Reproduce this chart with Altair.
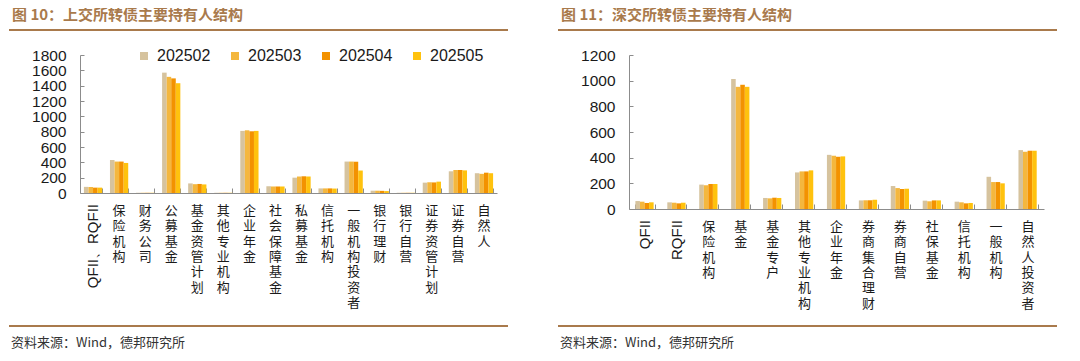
import altair as alt
import pandas as pd

periods = ["202502", "202503", "202504", "202505"]
colors = ["#D6C39E", "#F4B73E", "#F39200", "#FFC20E"]

# 上交所
sh_cats = ["QFII、RQFII", "保险机构", "财务公司", "公募基金", "基金资管计划", "其他专业机构",
           "企业年金", "社会保障基金", "私募基金", "信托机构", "一般机构投资者", "银行理财",
           "银行自营", "证券资管计划", "证券自营", "自然人"]
sh_202502 = [80, 430, 3, 1570, 125, 3, 810, 88, 200, 60, 410, 30, 3, 135, 283, 258]
sh_202503 = [78, 410, 3, 1515, 115, 3, 818, 85, 215, 60, 410, 30, 3, 140, 300, 250]
sh_202504 = [70, 410, 3, 1495, 118, 3, 805, 85, 218, 60, 408, 28, 3, 138, 300, 265]
sh_202505 = [70, 392, 3, 1432, 112, 3, 810, 85, 215, 58, 293, 25, 3, 148, 295, 258]
sh_latin = ["QFII、RQFII"]
sh_ticks = [0, 200, 400, 600, 800, 1000, 1200, 1400, 1600, 1800]

# 深交所
sz_cats = ["QFII", "RQFII", "保险机构", "基金", "基金专户", "其他专业机构", "企业年金",
           "券商集合理财", "券商自营", "社保基金", "信托机构", "一般机构", "自然人投资者"]
sz_202502 = [62, 52, 190, 1013, 86, 285, 422, 67, 179, 65, 57, 251, 459]
sz_202503 = [57, 49, 185, 952, 83, 293, 415, 68, 163, 60, 52, 210, 446]
sz_202504 = [47, 44, 195, 968, 88, 293, 407, 68, 156, 67, 44, 210, 454]
sz_202505 = [52, 49, 195, 952, 86, 301, 410, 72, 158, 67, 47, 200, 454]
sz_latin = ["QFII", "RQFII"]
sz_ticks = [0, 200, 400, 600, 800, 1000, 1200]

titles = ["图 10：上交所转债主要持有人结构", "图 11：深交所转债主要持有人结构"]
source = "资料来源：Wind，德邦研究所"

CJK = "Noto Sans CJK SC"
NUM = "Liberation Sans"
BROWN = "#A97A4C"
AXIS = "#8C8C8C"


def panel(cats, series, latin, ticks, title, w, h, pin, legend_x, col_pad):
    rows = []
    for p, vals in zip(periods, series):
        for c, v in zip(cats, vals):
            rows.append({"cat": c, "period": p, "value": v})
    df = pd.DataFrame(rows)
    cdf = pd.DataFrame({"cat": cats, "latin": [1 if c in latin else 0 for c in cats]})
    xscale = alt.Scale(paddingInner=pin, paddingOuter=pin / 2)
    yscale = alt.Scale(domain=[0, ticks[-1]])

    bars = alt.Chart(df).mark_bar().encode(
        x=alt.X("cat:N", sort=cats, scale=xscale, title=None,
                axis=alt.Axis(orient="bottom", labels=False, ticks=False, domainColor=AXIS,
                              domainWidth=1)),
        xOffset=alt.XOffset("period:N", sort=periods, scale=alt.Scale(paddingInner=0)),
        y=alt.Y("value:Q", scale=yscale, title=None,
                axis=alt.Axis(orient="left", values=ticks, format="d", labelOverlap=False,
                              labelFlush=False, grid=False, ticks=False,
                              domainColor=AXIS, labelFont=NUM, labelFontSize=15.5,
                              labelColor="#1a1a1a", labelPadding=14)),
        color=alt.Color("period:N", scale=alt.Scale(domain=periods, range=colors),
                        legend=alt.Legend(orient="none", legendX=legend_x, legendY=-7,
                                          direction="horizontal", columns=4, title=None,
                                          symbolType="square", symbolSize=64,
                                          symbolStrokeWidth=0, labelFont=NUM,
                                          labelFontSize=16, labelColor="#1a1a1a",
                                          labelOffset=5, columnPadding=col_pad,
                                          padding=0)),
    )

    tickl = alt.Chart(df).mark_point(opacity=0).encode(
        x=alt.X("cat:N", sort=cats, scale=xscale, title=None,
                axis=alt.Axis(orient="bottom", labels=False, domain=False, ticks=True,
                              tickBand="extent", tickSize=5, offset=-5, tickColor=AXIS)),
        y=alt.Y("value:Q", scale=yscale, title=None,
                axis=alt.Axis(orient="left", values=ticks, labels=False, domain=False,
                              ticks=True, tickSize=4, offset=-4, tickColor=AXIS, grid=False)),
    )

    cjk = alt.Chart(cdf).transform_filter("datum.latin == 0").transform_calculate(
        chars="split(datum.cat, '')"
    ).mark_text(baseline="top", align="center", font=CJK, fontSize=13, lineHeight=15.3,
                color="#1a1a1a").encode(
        x=alt.X("cat:N", sort=cats, scale=xscale, axis=None),
        y=alt.value(h + 12),
        text="chars:N",
    )

    lat = alt.Chart(cdf).transform_filter("datum.latin == 1").mark_text(
        angle=270, align="right", baseline="middle", font=NUM, fontSize=15,
        color="#1a1a1a").encode(
        x=alt.X("cat:N", sort=cats, scale=xscale, axis=None),
        y=alt.value(h + 11),
        text="cat:N",
    )

    one = pd.DataFrame({"t": [title], "s": [source]})
    ttl = alt.Chart(one).mark_text(align="left", baseline="middle", font=CJK, fontSize=15,
                                   fontWeight="bold", color=BROWN).encode(
        x=alt.value(-68), y=alt.value(-40), text="t:N")
    line1 = alt.Chart(one).mark_rule(color=BROWN, strokeWidth=2).encode(
        x=alt.value(-71), x2=alt.value(428), y=alt.value(-25))
    line2 = alt.Chart(one).mark_rule(color=BROWN, strokeWidth=2).encode(
        x=alt.value(-71), x2=alt.value(428), y=alt.value(271))
    src = alt.Chart(one).mark_text(align="left", baseline="middle", font=CJK, fontSize=13,
                                   color="#333333").encode(
        x=alt.value(-69), y=alt.value(288), text="s:N")

    return alt.layer(bars, tickl, cjk, lat, ttl, line1, line2, src).resolve_axis(
        x="independent", y="independent"
    ).properties(width=w, height=h)


left = panel(sh_cats, [sh_202502, sh_202503, sh_202504, sh_202505], sh_latin, sh_ticks,
             titles[0], 417, 138, 0.3, 56, 16)
right = panel(sz_cats, [sz_202502, sz_202503, sz_202504, sz_202505], sz_latin, sz_ticks,
              titles[1], 415, 154, 0.4, 137, 10)

chart = alt.hconcat(left, right, spacing=48).resolve_scale(color="shared").configure(
    padding=0, background="white"
).configure_view(stroke=None)

chart.save("out.html", embed_options={"renderer": "svg", "actions": False})
